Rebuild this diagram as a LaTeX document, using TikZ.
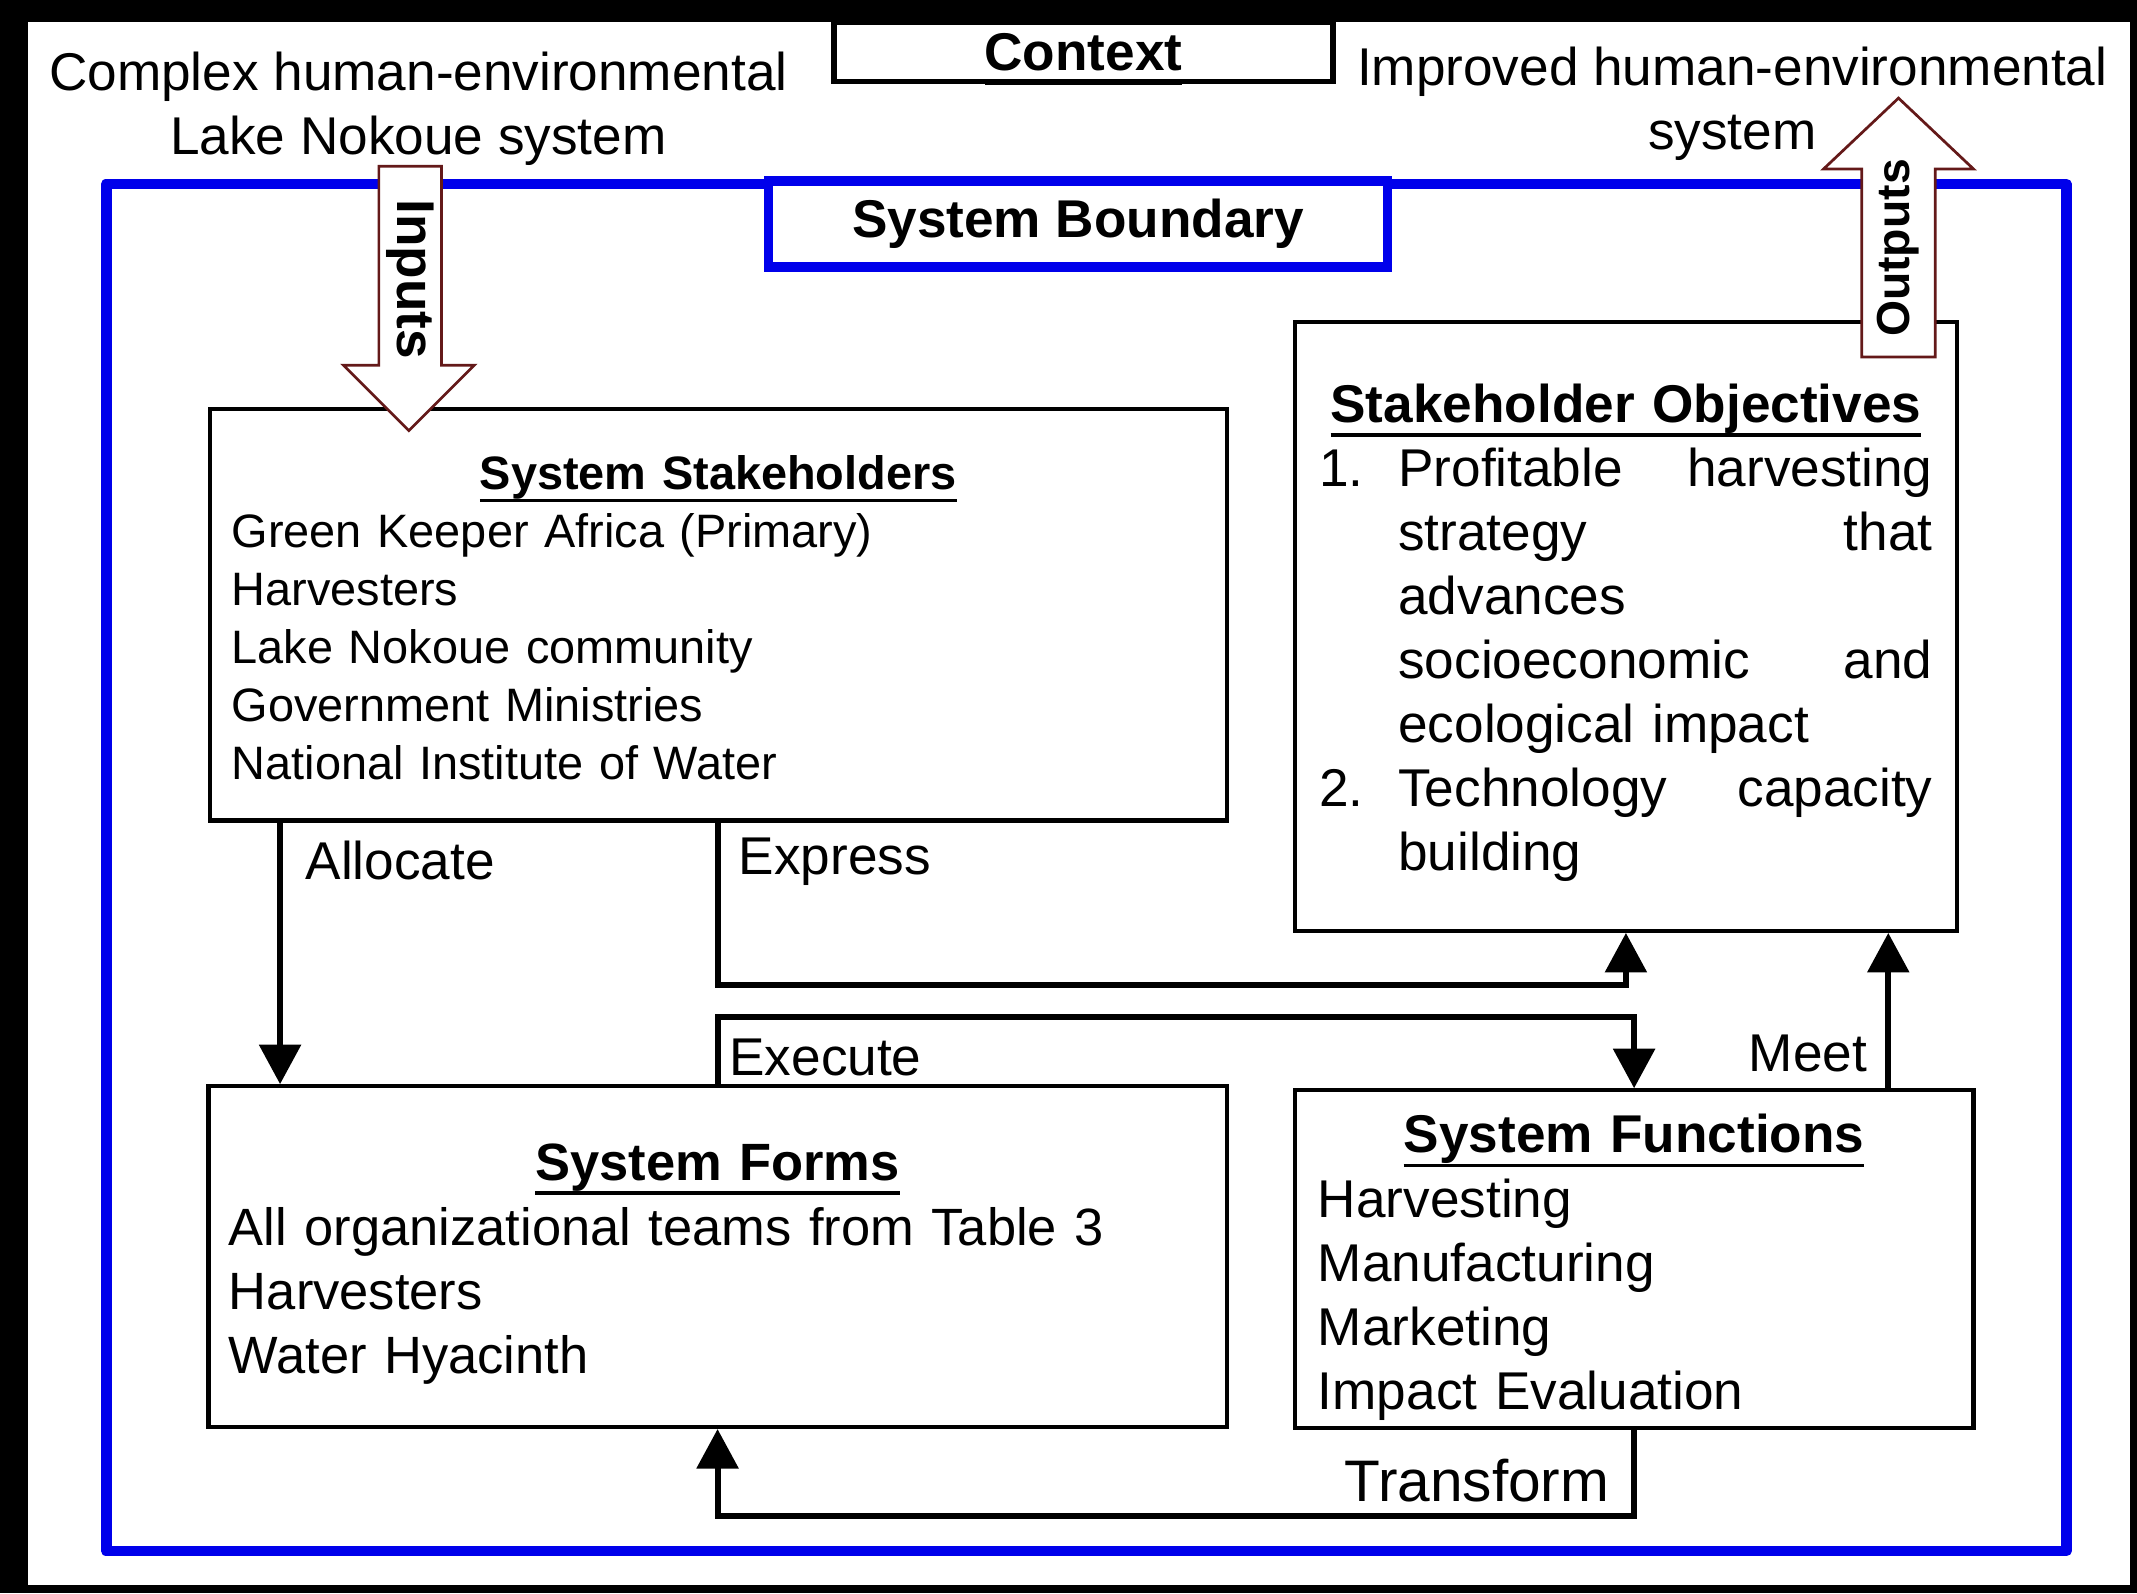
\documentclass[tikz,border=0pt]{standalone}
\usepackage{fontspec}
\setmainfont{Liberation Sans}
\usetikzlibrary{arrows.meta}
\definecolor{boundblue}{RGB}{0,0,235}
\definecolor{arrowred}{RGB}{100,25,25}
\newcommand{\bigsz}{\fontsize{39}{47}\selectfont}
\newcommand{\boxtitle}[1]{\setbox0=\hbox{\bfseries #1}\rlap{\rule[-0.27em]{\wd0}{0.07em}}\box0}
\tikzset{
  every node/.style={font=\bigsz, inner sep=0pt},
  sysbox/.style={draw, line width=3pt, fill=white, align=left, inner ysep=0pt},
  flow/.style={line width=4.5pt, -{Triangle[length=29pt,width=30pt]}},
  blockarrow/.style={draw=arrowred, line width=2pt, fill=white, line join=miter}
}
\begin{document}
\begin{tikzpicture}[x=1pt,y=-1pt]
  \useasboundingbox (0,0) rectangle (1568,1169);
  \fill[black] (0,0) rectangle (1568,1169);
  \draw[line width=2.5pt, fill=white] (19,15) rectangle (1564,1164);

  % context
  \node[draw, line width=4pt, fill=white, minimum width=366pt, minimum height=44pt, text depth=0pt] (context) at (795,38) {\boxtitle{Context}};
  \node[align=center] (complex) at (307,80) {Complex human-environmental\\Lake Nokoue system};
  \node[align=center] (improved) at (1271,76) {Improved human-environmental\\system};

  % system boundary
  \draw[boundblue, line width=8pt, line join=round] (78,135) rectangle (1516,1138);
  \node[draw=boundblue, line width=7pt, fill=white, minimum width=454pt, minimum height=63pt, font=\bigsz\bfseries] (boundary) at (791,164.5) {System Boundary};

  % boxes
  \node[sysbox, minimum width=746pt, minimum height=302pt, text width=714pt, inner xsep=16pt, font=\fontsize{34.4}{42.5}\selectfont] (stake) at (527,451)
    {\makebox[\linewidth]{\rule{0pt}{29pt}\boxtitle{System Stakeholders}}\\
     Green Keeper Africa (Primary)\\
     Harvesters\\
     Lake Nokoue community\\
     Government Ministries\\
     National Institute of Water};
  \node[sysbox, minimum width=486pt, minimum height=447pt, text width=450pt, inner xsep=18pt] (obj) at (1193,459.5)
    {\makebox[\linewidth]{\rule{0pt}{38pt}\boxtitle{Stakeholder Objectives}}\\
     \makebox[58pt][l]{1.}Profitable\hfill harvesting\\
     \hspace*{58pt}strategy\hfill that\\
     \hspace*{58pt}advances\\
     \hspace*{58pt}socioeconomic\hfill and\\
     \hspace*{58pt}ecological impact\\
     \makebox[58pt][l]{2.}Technology\hfill capacity\\
     \hspace*{58pt}building};
  \node[sysbox, minimum width=747pt, minimum height=250pt, text width=717pt, inner xsep=15pt, font=\fontsize{38.5}{47}\selectfont] (forms) at (526.5,922)
    {\makebox[\linewidth]{\rule{0pt}{38pt}\boxtitle{System Forms}}\\
     All organizational teams from Table 3\\
     Harvesters\\
     Water Hyacinth};
  \node[sysbox, minimum width=498pt, minimum height=248pt, text width=464pt, inner xsep=17pt] (func) at (1199,924)
    {\makebox[\linewidth]{\rule{0pt}{40pt}\boxtitle{System Functions}}\\
     Harvesting\\
     Manufacturing\\
     Marketing\\
     Impact Evaluation};

  % connectors
  \draw[flow] ([xshift=53pt]stake.south west) -- ([xshift=54pt]forms.north west);
  \draw[flow] (stake.south) -- ++(0,119) -| (obj.south);
  \draw[flow] (forms.north) -- ++(0,-49) -| (func.north);
  \draw[flow] ([xshift=-64pt]func.north east) -- ([xshift=-52pt]obj.south east);
  \draw[flow] (func.south) -- ++(0,63) -| (forms.south);

  \node[anchor=base west] (allocate) at (224,645) {Allocate};
  \node[anchor=base west] (express) at (542,642) {Express};
  \node[anchor=base west] (execute) at (535,789) {Execute};
  \node[anchor=base east] (meet) at (1370,786) {Meet};
  \node[anchor=base east, font=\fontsize{43}{50}\selectfont] (transform) at (1181,1102) {Transform};

  % inputs / outputs
  \draw[blockarrow] (278,122) -- (324,122) -- (324,268) -- (348,268) -- (300,316) -- (252,268) -- (278,268) -- cycle;
  \node[rotate=-90, font=\bigsz\bfseries] (inputs) at (301,205) {Inputs};
  \draw[blockarrow] (1366,262) -- (1420,262) -- (1420,124) -- (1448,124) -- (1393,72) -- (1338,124) -- (1366,124) -- cycle;
  \node[rotate=90, font=\fontsize{34}{40}\selectfont\bfseries] (outputs) at (1393,182) {Outputs};
\end{tikzpicture}
\end{document}
